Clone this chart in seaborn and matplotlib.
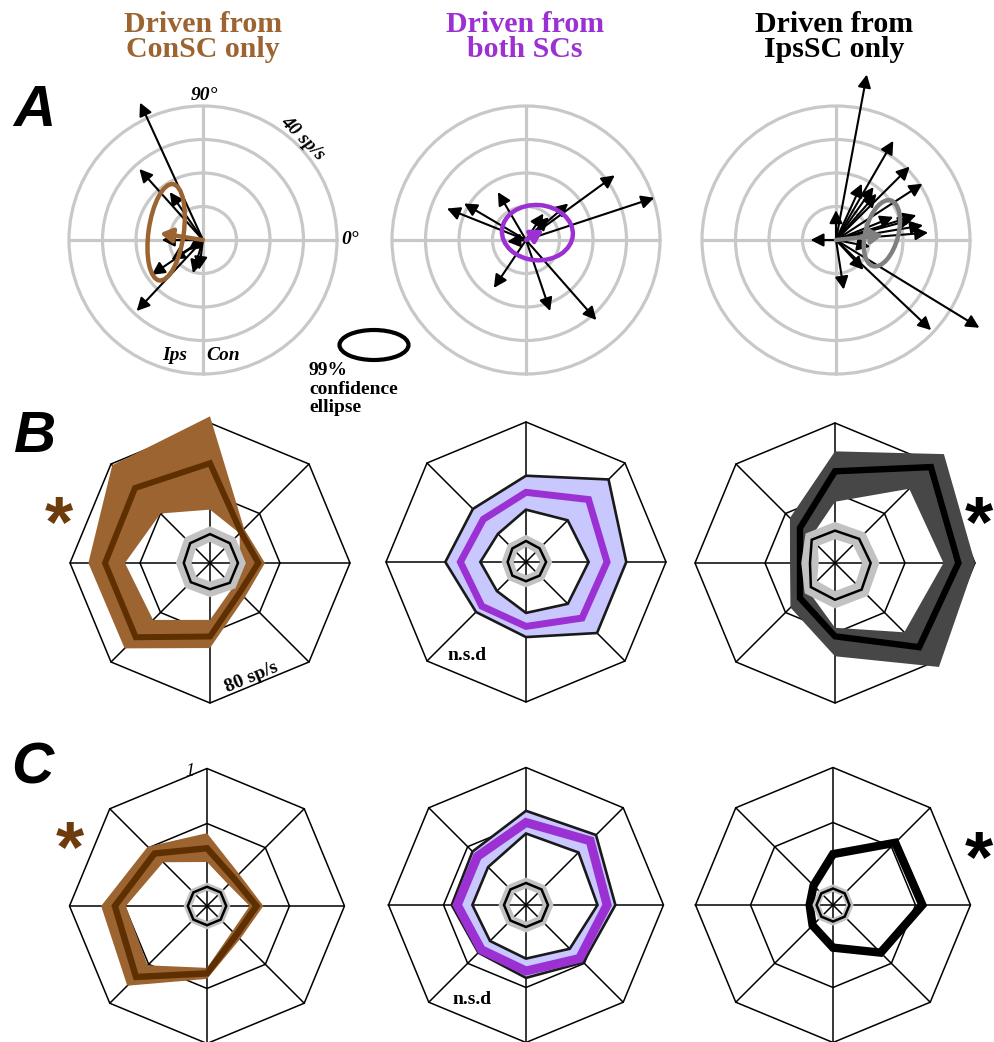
import numpy as np
import pandas as pd
import matplotlib
matplotlib.use("Agg")
import matplotlib.pyplot as plt
import seaborn as sns
from matplotlib.patches import Ellipse, Circle, PathPatch, Polygon
from matplotlib.path import Path

sns.set_theme(style="white")
plt.rcParams["font.family"] = ["Liberation Serif", "DejaVu Serif"]
plt.rcParams["text.color"] = "black"

# ---------------------------------------------------------------- data
# A: individual response vectors (sp/s, x = Con direction, y = 90 deg)
con_vx = [-18.8, -19.0, -9.9, -12.3, -15.3, -9.4, -4.4, -3.0, -1.2, -19.8]
con_vy = [41.0, 21.2, 14.3, 0.0, -10.4, -5.9, -3.0, -9.9, -8.9, -21.2]
con_mean_vec = (-12.8, 2.0)
con_ellipse = dict(center=(-11.0, 2.3), width=29.0, height=10.5, angle=82)

both_vx = [26.5, 38.3, -23.6, -18.5, -8.4, -9.6, 7.2, 21.0, 12.6, 5.2, 6.8, -5.6]
both_vy = [19.3, 12.6, 9.4, 10.9, 14.3, -14.3, -21.2, -23.9, 10.9, 7.9, 6.8, -0.5]
both_mean_vec = (5.2, 3.0)
both_ellipse = dict(center=(3.4, 2.2), width=21.2, height=16.5, angle=-4)

ips_vx = [9.2, 17.1, 22.0, 25.8, 27.5, 26.0, 24.0, 11.2, 12.1, 0.0, -7.6, 2.3,
          28.4, 42.8, 8.2, 17.1, 22.5, 7.7, 10.2]
ips_vy = [49.4, 29.6, 21.9, 16.8, 2.2, 4.4, 7.4, 15.8, 13.8, 8.9, 0.0, -14.8,
          -26.9, -26.2, -8.9, 6.9, 6.0, 16.8, -2.0]
ips_mean_vec = (14.1, 1.5)
ips_ellipse = dict(center=(13.7, 2.0), width=20.3, height=9.8, angle=75)

polar_rings = [10, 20, 30, 40]          # sp/s

# B: direction tuning (sp/s) for 8 directions, 0..315 deg
con_B_lo = [17.0, 24.0, 30.5, 40.0, 48.6, 46.0, 32.5, 19.0]
con_B_mean = [27.6, 25.0, 57.0, 60.6, 60.0, 60.0, 42.0, 24.0]
con_B_hi = [31.4, 27.6, 83.8, 79.0, 69.5, 69.0, 48.6, 28.0]
con_B_sp_lo = [11.5, 11.5, 12.0, 11.5, 10.5, 11.0, 10.5, 11.5]
con_B_sp = [16.0, 16.0, 16.5, 16.0, 15.0, 15.5, 15.0, 16.0]
con_B_sp_hi = [20.5, 20.5, 21.0, 20.5, 19.5, 20.0, 19.5, 20.5]

both_B_lo = [35.8, 33.7, 29.9, 22.7, 26.1, 23.5, 29.1, 33.8]
both_B_mean = [46.3, 50.5, 39.8, 34.5, 37.5, 35.7, 36.8, 45.3]
both_B_hi = [57.3, 66.7, 49.3, 42.9, 46.1, 40.4, 42.9, 57.4]
both_B_sp_lo = [8.0, 7.5, 8.5, 7.5, 7.0, 7.5, 7.5, 7.5]
both_B_sp = [11.5, 11.0, 12.0, 11.0, 10.5, 11.0, 11.0, 11.0]
both_B_sp_hi = [15.0, 14.5, 15.5, 14.5, 14.0, 14.5, 14.5, 14.5]

ips_B_lo = [62.0, 60.0, 35.0, 20.0, 16.0, 22.0, 37.0, 56.0]
ips_B_mean = [70.5, 77.5, 52.4, 28.3, 20.0, 28.3, 41.9, 68.0]
ips_B_hi = [80.0, 88.0, 63.8, 36.4, 25.7, 36.0, 53.3, 84.0]
ips_B_sp_lo = [15.4, 14.5, 13.5, 13.8, 9.3, 14.5, 16.0, 16.5]
ips_B_sp = [20.4, 19.5, 18.5, 18.8, 14.3, 19.5, 21.0, 21.5]
ips_B_sp_hi = [25.4, 24.5, 23.5, 23.8, 19.3, 24.5, 26.0, 26.5]

B_max, B_mid = 80, 40                   # sp/s

# C: normalised tuning
con_C_lo = [0.31, 0.22, 0.32, 0.45, 0.59, 0.61, 0.45, 0.26]
con_C_mean = [0.36, 0.28, 0.42, 0.54, 0.67, 0.73, 0.49, 0.30]
con_C_hi = [0.41, 0.33, 0.53, 0.61, 0.77, 0.82, 0.53, 0.34]
con_C_sp_lo = [0.11, 0.11, 0.11, 0.11, 0.11, 0.11, 0.11, 0.11]
con_C_sp = [0.14, 0.14, 0.14, 0.14, 0.14, 0.14, 0.14, 0.14]
con_C_sp_hi = [0.17, 0.17, 0.17, 0.17, 0.17, 0.17, 0.17, 0.17]

both_C_lo = [0.52, 0.54, 0.52, 0.39, 0.39, 0.37, 0.39, 0.45]
both_C_mean = [0.59, 0.66, 0.60, 0.50, 0.50, 0.46, 0.48, 0.55]
both_C_hi = [0.65, 0.72, 0.685, 0.55, 0.54, 0.49, 0.53, 0.59]
both_C_sp_lo = [0.12, 0.12, 0.12, 0.12, 0.12, 0.12, 0.12, 0.12]
both_C_sp = [0.16, 0.16, 0.16, 0.16, 0.16, 0.16, 0.16, 0.16]
both_C_sp_hi = [0.20, 0.20, 0.20, 0.20, 0.20, 0.20, 0.20, 0.20]

ips_C_lo = [0.63, 0.61, 0.35, 0.18, 0.15, 0.19, 0.29, 0.46]
ips_C_mean = [0.65, 0.64, 0.37, 0.20, 0.17, 0.21, 0.31, 0.49]
ips_C_hi = [0.68, 0.67, 0.39, 0.22, 0.19, 0.23, 0.33, 0.52]
ips_C_sp_lo = [0.095, 0.095, 0.095, 0.095, 0.095, 0.095, 0.095, 0.095]
ips_C_sp = [0.12, 0.12, 0.12, 0.12, 0.12, 0.12, 0.12, 0.12]
ips_C_sp_hi = [0.15, 0.15, 0.15, 0.15, 0.15, 0.15, 0.15, 0.15]

C_max, C_mid = 1.0, 0.6

titles = ["Driven from\nConSC only", "Driven from\nboth SCs", "Driven from\nIpsSC only"]

# ---------------------------------------------------------------- style
BROWN = "#9C6431"
DARK_BROWN = "#5E2F00"
STAR_BROWN = "#6E3B0C"
PURPLE = "#9B30D3"
LIGHT_BLUE = "#C8C8FF"
DARK_GRAY = "#474747"
SPONT_GRAY = "#C2C2C2"
POLAR_GRAY = "#C8C8C8"
MID_GRAY = "#808080"

W, H = 995, 1042
fig = plt.figure(figsize=(W / 100, H / 100), dpi=100)
fig.patch.set_facecolor("white")

DIRS = np.deg2rad(np.arange(0, 360, 45))


def fx(x):
    return x / W


def fy(y):
    return 1 - y / H


def panel_axes(cx, cy, radius_px, radius_val, half_px=165):
    lim = half_px * radius_val / radius_px
    ax = fig.add_axes([fx(cx - half_px), fy(cy + half_px), 2 * half_px / W, 2 * half_px / H])
    ax.set_xlim(-lim, lim)
    ax.set_ylim(-lim, lim)
    ax.set_aspect("equal")
    ax.set_axis_off()
    ax.patch.set_visible(False)
    return ax


def to_xy(r):
    r = np.asarray(r, dtype=float)
    return r * np.cos(DIRS), r * np.sin(DIRS)


def ring_patch(lo, hi, **kw):
    xo, yo = to_xy(hi)
    xi, yi = to_xy(lo)
    verts = list(zip(xo, yo)) + [(xo[0], yo[0])]
    verts += list(zip(xi[::-1], yi[::-1])) + [(xi[-1], yi[-1])]
    codes = [Path.MOVETO] + [Path.LINETO] * 7 + [Path.CLOSEPOLY]
    codes = codes + codes
    return PathPatch(Path(verts, codes), **kw)


def closed_line(ax, r, color, lw, z):
    x, y = to_xy(r)
    ax.add_patch(Polygon(np.column_stack([x, y]), closed=True, fill=False,
                         ec=color, lw=lw, joinstyle="miter", zorder=z))


def radar_grid(ax, rmax, rmid):
    for rr in (rmax, rmid):
        closed_line(ax, [rr] * 8, "black", 1.1, 1)
    ex, ey = to_xy([rmax] * 8)
    spokes = pd.DataFrame({
        "x": np.ravel(np.column_stack([np.zeros(8), ex])),
        "y": np.ravel(np.column_stack([np.zeros(8), ey])),
        "spoke": np.repeat(np.arange(8), 2),
    })
    sns.lineplot(data=spokes, x="x", y="y", units="spoke", estimator=None,
                 sort=False, color="black", lw=1.1, ax=ax, legend=False, zorder=1)


def radar_panel(ax, rmax, rmid, lo, mean, hi, sp_lo, sp, sp_hi, band_color,
                mean_color, mean_lw, edge_lw=0.0):
    radar_grid(ax, rmax, rmid)
    ax.add_patch(ring_patch(lo, hi, fc=band_color, ec="none", zorder=2))
    if edge_lw:
        closed_line(ax, lo, "#1a1a1a", edge_lw, 3)
        closed_line(ax, hi, "#1a1a1a", edge_lw, 3)
    closed_line(ax, mean, mean_color, mean_lw, 4)
    ax.add_patch(ring_patch(sp_lo, sp_hi, fc=SPONT_GRAY, ec="none", zorder=5))
    closed_line(ax, sp, "black", 1.8, 6)


def polar_panel(ax, vx, vy, mean_vec, ell, color):
    for rr in polar_rings:
        ax.add_patch(Circle((0, 0), rr, fill=False, ec=POLAR_GRAY, lw=2.3, zorder=1))
    rmax = polar_rings[-1]
    cross = pd.DataFrame({"x": [-rmax, rmax, 0, 0], "y": [0, 0, -rmax, rmax],
                          "axis": ["h", "h", "v", "v"]})
    sns.lineplot(data=cross, x="x", y="y", units="axis", estimator=None, sort=False,
                 color=POLAR_GRAY, lw=2.3, ax=ax, legend=False, zorder=1)
    for x, y in zip(vx, vy):
        ax.annotate("", xy=(x, y), xytext=(0, 0), annotation_clip=False,
                    arrowprops=dict(arrowstyle="-|>,head_length=0.55,head_width=0.28",
                                    color="black", lw=1.5, mutation_scale=14,
                                    shrinkA=0, shrinkB=0), zorder=3)
    ax.annotate("", xy=mean_vec, xytext=(0, 0), annotation_clip=False,
                arrowprops=dict(arrowstyle="-|>,head_length=0.5,head_width=0.3",
                                color=color, lw=3.2, mutation_scale=14,
                                shrinkA=0, shrinkB=0), zorder=4)
    ax.add_patch(Ellipse(ell["center"], ell["width"], ell["height"], angle=ell["angle"],
                         fill=False, ec=color, lw=3.2, zorder=5))


# ---------------------------------------------------------------- row A
A_R = 134
axA1 = panel_axes(203, 240, A_R, polar_rings[-1])
polar_panel(axA1, con_vx, con_vy, con_mean_vec, con_ellipse, BROWN)
axA2 = panel_axes(526, 240, A_R, polar_rings[-1])
polar_panel(axA2, both_vx, both_vy, both_mean_vec, both_ellipse, PURPLE)
axA3 = panel_axes(836, 240, A_R, polar_rings[-1])
polar_panel(axA3, ips_vx, ips_vy, ips_mean_vec, ips_ellipse, MID_GRAY)

# legend ellipse
axL = fig.add_axes([fx(330), fy(365), 90 / W, 40 / H])
axL.set_xlim(0, 90)
axL.set_ylim(0, 40)
axL.set_axis_off()
axL.patch.set_visible(False)
axL.add_patch(Ellipse((44, 20), 69, 30, fill=False, ec="black", lw=3.0))

# ---------------------------------------------------------------- row B
B_R = 140
axB1 = panel_axes(210, 563, B_R, B_max)
radar_panel(axB1, B_max, B_mid, con_B_lo, con_B_mean, con_B_hi,
            con_B_sp_lo, con_B_sp, con_B_sp_hi, BROWN, DARK_BROWN, 4.3)
axB2 = panel_axes(526, 562, B_R, B_max)
radar_panel(axB2, B_max, B_mid, both_B_lo, both_B_mean, both_B_hi,
            both_B_sp_lo, both_B_sp, both_B_sp_hi, LIGHT_BLUE, PURPLE, 5.0, 1.9)
axB3 = panel_axes(835, 563, B_R, B_max)
radar_panel(axB3, B_max, B_mid, ips_B_lo, ips_B_mean, ips_B_hi,
            ips_B_sp_lo, ips_B_sp, ips_B_sp_hi, DARK_GRAY, "black", 4.6)

# ---------------------------------------------------------------- row C
C_R = 137.5
axC1 = panel_axes(207, 906, C_R, C_max)
radar_panel(axC1, C_max, C_mid, con_C_lo, con_C_mean, con_C_hi,
            con_C_sp_lo, con_C_sp, con_C_sp_hi, BROWN, DARK_BROWN, 4.6)
axC2 = panel_axes(526, 905, C_R, C_max)
radar_panel(axC2, C_max, C_mid, both_C_lo, both_C_mean, both_C_hi,
            both_C_sp_lo, both_C_sp, both_C_sp_hi, LIGHT_BLUE, PURPLE, 6.5, 1.9)
axC3 = panel_axes(833, 905, C_R, C_max)
radar_panel(axC3, C_max, C_mid, ips_C_lo, ips_C_mean, ips_C_hi,
            ips_C_sp_lo, ips_C_sp, ips_C_sp_hi, "#555555", "black", 6.0)

# ---------------------------------------------------------------- text
serif = ["Liberation Serif", "DejaVu Serif"]
sans = ["Liberation Sans", "DejaVu Sans"]

for cx, t, c in zip([203, 525, 834], titles, [BROWN, PURPLE, "black"]):
    fig.text(fx(cx), fy(37), t, ha="center", va="center", fontsize=21.5,
             fontweight="bold", color=c, family=serif, linespacing=0.95)

for letter, x, y in [("A", 34, 111), ("B", 35, 437), ("C", 32, 769)]:
    fig.text(fx(x), fy(y), letter, ha="center", va="center", fontsize=42,
             fontweight="bold", fontstyle="italic", family=sans, color="black")

lab = dict(fontweight="bold", fontstyle="italic", family=serif, fontsize=14,
           color="black")
fig.text(fx(204), fy(95), "90°", ha="center", va="center", **lab)
fig.text(fx(303), fy(138), "40 sp/s", ha="center", va="center", rotation=-45,
         rotation_mode="anchor", **lab)
fig.text(fx(350), fy(240), "0°", ha="center", va="center", **lab)
fig.text(fx(175), fy(355), "Ips", ha="center", va="center", **lab)
fig.text(fx(223), fy(355), "Con", ha="center", va="center", **lab)

fig.text(fx(309), fy(389), "99%\nconfidence\nellipse", ha="left", va="center",
         fontsize=14, fontweight="bold", family=serif, linespacing=1.12,
         color="black")

fig.text(fx(252), fy(677), "80 sp/s", ha="center", va="center", rotation=22.5,
         rotation_mode="anchor", fontsize=14, fontweight="bold", family=serif,
         color="black")
fig.text(fx(467), fy(655), "n.s.d", ha="center", va="center", fontsize=14,
         fontweight="bold", family=serif, color="black")
fig.text(fx(472), fy(999), "n.s.d", ha="center", va="center", fontsize=14,
         fontweight="bold", family=serif, color="black")
fig.text(fx(190), fy(771), "1", ha="center", va="center", fontsize=13,
         fontstyle="italic", family=serif, color="black")

star = dict(ha="center", va="center", fontsize=52, fontweight="bold", family=sans)
fig.text(fx(59), fy(527), "*", color=STAR_BROWN, **star)
fig.text(fx(70), fy(852), "*", color=STAR_BROWN, **star)
fig.text(fx(979), fy(527), "*", color="black", **star)
fig.text(fx(979), fy(862), "*", color="black", **star)

fig.savefig("out.png", dpi=100, facecolor="white")
